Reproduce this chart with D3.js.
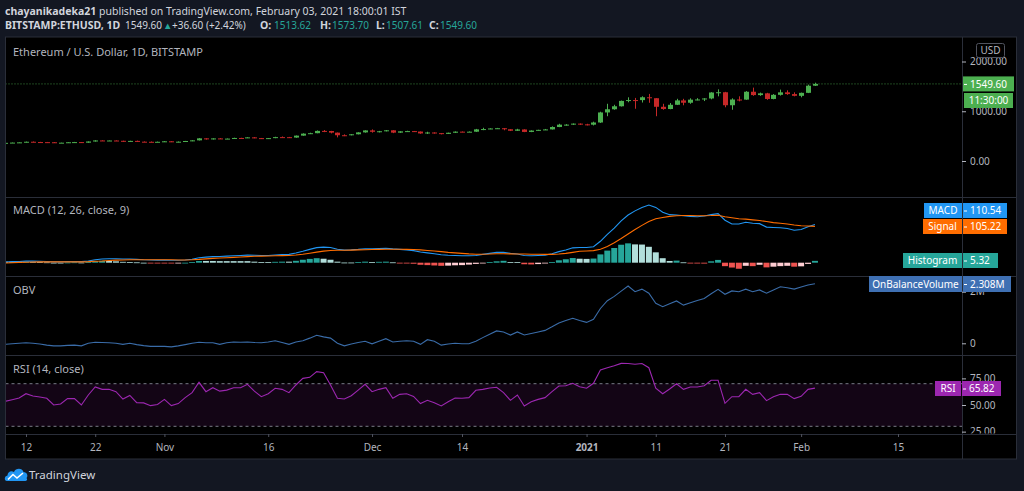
<!DOCTYPE html>
<html><head><meta charset="utf-8">
<script src="https://cdn.jsdelivr.net/npm/d3@7"></script>
<style>
html,body{margin:0;padding:0;background:#131722;overflow:hidden;}
svg{display:block;}
text{font-family:"Noto Sans","Open Sans",sans-serif;}
</style></head><body>
<svg id="c" width="1024" height="491"></svg>
<script>
// ---------------- DATA ----------------
const startDate = "2020-10-09"; // first daily candle
const open = [351,365,370,375,387,381,379,377,366,368,377,380,368,392,413,409,412,406,393,404,388,386,382,386,396,383,388,402,415,455,435,454,444,450,463,462,475,460,448,460,480,479,471,510,550,559,605,603,570,518,517,537,575,615,587,598,617,570,596,601,592,554,573,560,545,568,590,586,589,636,642,654,659,638,608,634,584,612,626,635,683,731,731,751,737,730,774,976,1040,1100,1208,1225,1224,1281,1262,1090,1045,1130,1218,1171,1233,1237,1257,1377,1382,1121,1236,1234,1392,1325,1360,1247,1330,1380,1345,1310,1370,1513.62];
const high = [370,372,378,390,392,385,383,380,370,380,384,382,394,418,418,415,414,408,407,410,393,392,390,400,398,393,404,418,460,457,456,460,452,468,467,478,480,463,462,487,493,484,512,556,568,614,622,606,572,535,540,578,617,635,605,623,619,598,608,604,593,588,576,563,570,595,593,595,645,668,658,665,662,640,647,637,616,628,644,696,748,741,755,755,748,790,990,1150,1130,1215,1280,1268,1300,1348,1263,1150,1165,1250,1250,1260,1263,1263,1383,1440,1390,1260,1300,1405,1475,1375,1370,1345,1435,1420,1380,1375,1535,1573.70];
const low = [349,363,368,374,376,374,372,362,364,366,373,365,365,390,405,406,401,385,391,383,379,377,379,381,380,375,385,398,413,430,432,442,440,448,457,461,457,442,443,458,470,465,467,508,542,557,580,555,475,500,515,535,570,570,575,595,560,565,588,585,546,543,550,535,543,564,578,584,585,620,640,650,618,602,605,580,580,610,622,633,680,711,725,725,715,715,765,900,1030,1095,1180,1050,1175,1170,900,1030,1040,1125,1120,1150,1220,1205,1240,1300,1080,1030,1200,1230,1310,1310,1230,1240,1315,1330,1300,1280,1365,1507.61];
const close = [365,370,375,387,381,379,377,366,368,377,380,368,392,413,409,412,406,393,404,388,386,382,386,396,383,388,402,415,455,435,454,444,450,463,462,475,460,448,460,480,479,471,510,550,559,605,603,570,518,517,537,575,615,587,598,617,570,596,601,592,554,573,560,545,568,590,586,589,636,642,654,659,638,608,634,584,612,626,635,683,731,731,751,737,730,774,976,1040,1100,1208,1225,1224,1281,1262,1090,1045,1130,1218,1171,1233,1237,1257,1377,1382,1121,1236,1234,1392,1325,1360,1247,1330,1380,1345,1310,1370,1513.62,1549.60];
const macd = [2,3,3.5,4.5,4.5,4,3.5,2.5,2.5,3,3.5,3,5,8.5,10.5,11.5,11.5,10.5,10.5,9.5,8.5,8,7.5,7.5,7,7,8,10,14.5,16,17.5,18,19,20,21,22,21.5,21,21,22.5,23.5,24,28,33,38.5,43.5,45,44,39,36.5,37,38.5,40.5,40,41,42,40,38.5,37,35,31,28.5,26,23,21.5,21,20,20,21,24,27,30,30,27,25,21,20,21,22,26,32,37,43,44,44,46,62,82,100,121,138,150,160,167,160,146,139,138,136,134,133,135,139,142,123,112,112,117,114,113,103,102,101,99,94,96,104,110.54];
const signal = [-1,0,1,1.5,2,2.5,2.5,2.5,2.5,2.5,2.5,2.5,3,4,5,6.5,7.5,8,8.5,8.5,8.5,8.5,8.5,8.5,8.5,8,8,8.5,9.5,11,12.5,13.5,14.5,15.5,16.5,17.5,18.5,19,19.5,20,20.5,21,22.5,24.5,27.5,30.5,33.5,35.5,36,36,36.5,37,37.5,38,38.5,39,39,39,38.5,38,37,35.5,34,32,30,28.5,27,25.5,24.5,24.5,25,26,26,25.5,25,25,24.5,24.5,24,24,25,27,30,33,34,35,39,47,58,70,83,96,108,119,127,131,134,136,136.5,136.5,136,136,136.5,137.5,133,130,127,126,124,122,119,116,114,112,109,107,106,105.22];
const hist = [3,3,2.5,3,2.5,1.5,1,0,0,0.5,1,0.5,2,4.5,5.5,5,4,2.5,2,1,0,-0.5,-1,-1,-1.5,-1,0,1.5,5,5,5,4.5,4.5,4.5,4.5,4.5,3,2,1.5,2.5,3,3,5.5,8.5,11,13,11.5,8.5,3,0.5,0.5,1.5,3,2,2.5,3,1,-0.5,-1.5,-3,-6,-7,-8,-9,-8.5,-7.5,-7,-5.5,-3.5,-0.5,2,4,5.5,2,1.5,-4.5,-5,-4,-2,2,7,10,13.5,11.5,11,12,24,35,42.5,52,56,53,52.5,46,30,13,5,6,1,-0.5,-2,-2.5,4,8,-10,-14,-17.5,-9,-10,-6,-13.5,-11.5,-10,-9,-11.5,-10.5,-3.5,5.32];
const obv = [-0.04,-0.02,0,0.02,0,-0.03,-0.07,-0.1,-0.1,-0.08,-0.07,-0.1,0,0.04,0.03,0.02,0,-0.04,0,-0.05,-0.09,-0.12,-0.12,-0.12,-0.14,-0.1,-0.05,0,0.04,0.02,0.02,-0.04,0.02,0.05,0.04,0.05,0.03,0.02,0.05,0.1,0.03,-0.04,0.05,0.1,0.2,0.31,0.25,0.2,0,-0.1,-0.03,0.03,0.08,-0.02,0.08,0.18,0.05,0.08,0.1,0.08,-0.04,0.14,0.08,-0.07,-0.03,0,-0.02,-0.02,0.08,0.22,0.35,0.48,0.44,0.32,0.44,0.32,0.38,0.44,0.5,0.64,0.79,0.88,0.97,0.88,0.81,0.93,1.35,1.65,1.82,2.02,2.22,2.0,2.1,1.94,1.55,1.42,1.53,1.64,1.48,1.57,1.66,1.74,1.92,2.09,1.9,2.03,2.0,2.1,2.0,2.07,1.94,2.07,2.19,2.15,2.1,2.18,2.26,2.308]; // millions
const rsi = [53.5,55,56.5,60.6,58.5,57.5,56.3,50,51,56,56,50,59.4,66.9,64.7,64.7,62.5,55.6,59,52.2,52,49.4,50.5,55.3,49.4,51.3,56.9,61.6,71.3,62.5,66.2,63,64,66.2,66.2,69.4,63,57.8,60.6,65.7,64.7,61.6,68.8,75,76,81.3,80.3,68.8,56.3,55.6,58.7,64,69.4,62.5,64.7,66.2,56.3,60,60.6,58.1,51.3,54.4,52.2,49.1,53.1,56.6,56.3,56.9,63.8,64.7,66,66.6,61.6,54.4,59.4,49.1,53.1,55.3,56.9,62.5,67.8,68.1,70.4,67.2,65.7,70.4,82.9,85,86.9,89.1,89,88.2,89,85,65.7,60.6,65,70,64.7,66.9,66.9,68.1,73.2,73.2,51.6,57.8,57.8,64.7,60,61.6,54.1,57.8,60,60,56,58.1,64.7,65.82];

const priceTicks = [0, 1000, 2000];
const obvTicks = [0, 2];
const rsiTicks = [25, 50, 75];
const rsiBands = [70, 30];
const timeTicks = ["2020-10-12","2020-10-22","2020-11-01","2020-11-16","2020-12-01","2020-12-14","2021-01-01","2021-01-11","2021-01-21","2021-02-01","2021-02-15"];
const timeLabels = ["12","22","Nov","16","Dec","14","2021","11","21","Feb","15"];

// ---------------- LAYOUT ----------------
const svg = d3.select("#c");
const parse = d3.utcParse("%Y-%m-%d");
const dates = close.map((_, i) => d3.utcDay.offset(parse(startDate), i));
const n = close.length;
const L = 5.5, R = 962, RR = 1016.5;
const P = {price:[37,197], macd:[197,276], obv:[276,355], rsi:[355,434]};
const AXB = 459;
const gridC = "#2a2e39", txtC = "#b2b5be";
const upC = "#4caf50", dnC = "#c62828";

const x = d3.scaleUtc().domain([parse("2020-10-12"), parse("2021-02-15")]).range([26, 898]);
const yP = d3.scaleLinear().domain([0, 2000]).range([161, 61.5]);
const yM = d3.scaleLinear().domain([0, 100]).range([262.7, 228.14]);
const yO = d3.scaleLinear().domain([0, 2]).range([343.3, 291.7]);
const yR = d3.scaleLinear().domain([30, 70]).range([426.3, 383.7]);

// frame
svg.append("rect").attr("x", L).attr("y", 37).attr("width", RR - L).attr("height", AXB - 37)
  .attr("fill", "#000").attr("stroke", gridC).attr("stroke-width", 1);

const defs = svg.append("defs");
Object.entries(P).forEach(([k, [t, b]]) => {
  defs.append("clipPath").attr("id", "clip-" + k).append("rect")
    .attr("x", L + 0.5).attr("y", t + 0.5).attr("width", R - L - 0.5).attr("height", b - t - 1);
  defs.append("clipPath").attr("id", "clipax-" + k).append("rect")
    .attr("x", R).attr("y", t + 0.5).attr("width", RR - R).attr("height", b - t - 1);
});

// separators
[197, 276, 355, 434].forEach(y => svg.append("line").attr("x1", L).attr("x2", RR)
  .attr("y1", y + 0.5).attr("y2", y + 0.5).attr("stroke", gridC));
svg.append("line").attr("x1", R + 0.5).attr("x2", R + 0.5).attr("y1", 37).attr("y2", AXB).attr("stroke", gridC);

// ---------------- PRICE PANE ----------------
const gP = svg.append("g").attr("clip-path", "url(#clip-price)");
gP.append("line").attr("x1", L).attr("x2", R).attr("y1", yP(close[n-1])).attr("y2", yP(close[n-1]))
  .attr("stroke", upC).attr("stroke-dasharray", "1,2").attr("opacity", 0.8);
dates.forEach((d, i) => {
  const cx = Math.round(x(d));
  const col = close[i] >= open[i] ? upC : dnC;
  gP.append("line").attr("x1", cx + 0.5).attr("x2", cx + 0.5)
    .attr("y1", yP(high[i])).attr("y2", yP(low[i])).attr("stroke", col);
  const y0 = yP(Math.max(open[i], close[i])), y1 = yP(Math.min(open[i], close[i]));
  gP.append("rect").attr("x", cx - 2).attr("width", 5).attr("y", y0)
    .attr("height", Math.max(1, y1 - y0)).attr("fill", col);
});
svg.append("text").attr("x", 13).attr("y", 55.5).attr("font-size", 11).attr("fill", txtC)
  .text("Ethereum / U.S. Dollar, 1D, BITSTAMP");

function rightAxis(scale, ticks, fmt, pane) {
  const outer = svg.append("g").attr("clip-path", `url(#clipax-${pane})`);
  const g = outer.append("g").attr("transform", `translate(${R},0)`)
    .call(d3.axisRight(scale).tickValues(ticks).tickFormat(fmt).tickSize(4).tickPadding(4));
  g.select(".domain").remove();
  g.selectAll("line").attr("stroke", txtC);
  g.selectAll("text").attr("fill", txtC).attr("font-size", 10)
    .attr("font-family", '"Noto Sans",sans-serif');
  return g;
}
rightAxis(yP, priceTicks, d3.format(".2f"), "price");

// USD box
svg.append("rect").attr("x", 976.5).attr("y", 43.5).attr("width", 28).attr("height", 14).attr("rx", 2)
  .attr("fill", "#000").attr("stroke", "#50535e");
svg.append("text").attr("x", 990.5).attr("y", 54).attr("text-anchor", "middle").attr("font-size", 10)
  .attr("fill", txtC).text("USD");

function tagBox(xl, xr, yc, h, fill, txt, tick) {
  svg.append("rect").attr("x", xl).attr("y", yc - h / 2).attr("width", xr - xl).attr("height", h).attr("fill", fill);
  if (tick) svg.append("line").attr("x1", xl + 1).attr("x2", xl + 4).attr("y1", yc + 0.5).attr("y2", yc + 0.5).attr("stroke", "#fff");
  svg.append("text").attr("x", tick ? xl + 7 : (xl + xr) / 2).attr("y", yc).attr("dy", "0.36em")
    .attr("text-anchor", tick ? "start" : "middle").attr("font-size", 10).attr("fill", "#fff").text(txt);
}
tagBox(963, 1014, yP(close[n-1]), 15, upC, d3.format(".2f")(close[n-1]), true);
tagBox(964, 1013, 100.5, 15, upC, "11:30:00", false);

// ---------------- MACD PANE ----------------
const gM = svg.append("g").attr("clip-path", "url(#clip-macd)");
hist.forEach((h, i) => {
  const prev = i > 0 ? hist[i - 1] : h;
  const col = h >= 0 ? (h > prev ? "#26a69a" : "#b2dfdb") : (h > prev ? "#ffcdd2" : "#ef5350");
  const cx = x(dates[i]);
  gM.append("rect").attr("x", cx - 3).attr("width", 6)
    .attr("y", Math.min(yM(0), yM(h))).attr("height", Math.max(0.8, Math.abs(yM(h) - yM(0))))
    .attr("fill", col);
});
const lineM = d3.line().x((d, i) => x(dates[i])).y(d => yM(d));
gM.append("path").attr("d", lineM(macd)).attr("fill", "none").attr("stroke", "#2196f3").attr("stroke-width", 1.1);
gM.append("path").attr("d", lineM(signal)).attr("fill", "none").attr("stroke", "#ff6d00").attr("stroke-width", 1.1);
svg.append("text").attr("x", 13).attr("y", 214).attr("font-size", 11).attr("fill", txtC).text("MACD (12, 26, close, 9)");

tagBox(924, 962, 210.5, 15, "#2196f3", "MACD", false);
tagBox(963, 1007, 210.5, 15, "#2196f3", d3.format(".2f")(macd[n-1]), true);
tagBox(923, 962, 226.5, 15, "#ff6d00", "Signal", false);
tagBox(963, 1007, 226.5, 15, "#ff6d00", d3.format(".2f")(signal[n-1]), true);
tagBox(903, 962, 260.5, 15, "#26a69a", "Histogram", false);
tagBox(963, 998, 260.5, 15, "#26a69a", d3.format(".2f")(hist[n-1]), true);

// ---------------- OBV PANE ----------------
const gO = svg.append("g").attr("clip-path", "url(#clip-obv)");
gO.append("path").attr("d", d3.line().x((d, i) => x(dates[i])).y(d => yO(d))(obv))
  .attr("fill", "none").attr("stroke", "#3a6ca8").attr("stroke-width", 1.1);
svg.append("text").attr("x", 13).attr("y", 293.5).attr("font-size", 11).attr("fill", txtC).text("OBV");
rightAxis(yO, obvTicks, d => d === 0 ? "0" : d + "M", "obv");
tagBox(869, 962, 284, 16, "#3f70b3", "OnBalanceVolume", false);
tagBox(963, 1011, 284, 16, "#3f70b3", d3.format(".3f")(obv[n-1]) + "M", true);

// ---------------- RSI PANE ----------------
const gR = svg.append("g").attr("clip-path", "url(#clip-rsi)");
gR.append("rect").attr("x", L).attr("width", R - L).attr("y", yR(70)).attr("height", yR(30) - yR(70))
  .attr("fill", "#9c27b0").attr("opacity", 0.12);
rsiBands.forEach(v => gR.append("line").attr("x1", L).attr("x2", R).attr("y1", yR(v)).attr("y2", yR(v))
  .attr("stroke", "#787b86").attr("stroke-dasharray", "3,3"));
gR.append("path").attr("d", d3.line().x((d, i) => x(dates[i])).y(d => yR(d))(rsi))
  .attr("fill", "none").attr("stroke", "#9c27b0").attr("stroke-width", 1.1);
svg.append("text").attr("x", 13).attr("y", 372.5).attr("font-size", 11).attr("fill", txtC).text("RSI (14, close)");
rightAxis(yR, rsiTicks, d3.format(".2f"), "rsi");
tagBox(935, 961, 388.5, 15, "#9c27b0", "RSI", false);
tagBox(962, 1001, 388.5, 15, "#9c27b0", d3.format(".2f")(rsi[n-1]), true);

// ---------------- TIME AXIS ----------------
const gT = svg.append("g").attr("transform", "translate(0,434)")
  .call(d3.axisBottom(x).tickValues(timeTicks.map(parse)).tickFormat((d, i) => timeLabels[i]).tickSize(3).tickPadding(7));
gT.select(".domain").remove();
gT.selectAll("line").attr("stroke", "#50535e");
gT.selectAll("text").attr("fill", txtC).attr("font-size", 10).attr("font-family", '"Noto Sans",sans-serif')
  .attr("font-weight", (d, i) => timeLabels[i] === "2021" ? 700 : 400);

// ---------------- HEADER ----------------
const h1 = svg.append("text").attr("x", 5).attr("y", 14.5).attr("font-size", 10.5).attr("fill", "#d1d4dc");
h1.append("tspan").attr("font-weight", 700).text("chayanikadeka21");
h1.append("tspan").text(" published on TradingView.com, February 03, 2021 18:00:01 IST");
const teal = "#26a69a";
const h2 = svg.append("g").attr("fill", "#d1d4dc");
const seg = (xx, t, bold, col, fs) => h2.append("text").attr("x", xx).attr("y", 28.5)
  .attr("font-size", fs || 10.5).attr("font-weight", bold ? 700 : 400).attr("fill", col || "#d1d4dc").text(t);
seg(5, "BITSTAMP:ETHUSD, 1D", true);
seg(125, d3.format(".2f")(close[n-1]), false, null, 10);
seg(163, "▲", false, teal, 9.5);
seg(172, "+36.60 (+2.42%)", false, null, 10);
[["O:", open[n-1], 260, 274], ["H:", high[n-1], 320, 332], ["L:", low[n-1], 376, 386], ["C:", close[n-1], 429, 440]]
  .forEach(([k, v, xk, xv]) => { seg(xk, k, true); seg(xv, d3.format(".2f")(v), false, teal, 10); });

// ---------------- FOOTER ----------------
const logo = svg.append("g").attr("transform", "translate(5,467)");
logo.append("path").attr("fill", "#2196f3")
  .attr("d", "M2,14 C-1,14 -1,9 2.5,8.5 C2.5,5 6,3 9,5 C10.5,1 17,0.5 18.5,5 C22,5 23.5,9 21.5,11 C23,13 21.5,14 20,14 Z");
logo.append("path").attr("fill", "none").attr("stroke", "#fff").attr("stroke-width", 1.6)
  .attr("d", "M3,12.5 L8,7.5 L12,11 L18,6");
svg.append("text").attr("x", 29).attr("y", 478.5).attr("font-size", 11.5).attr("fill", "#d1d4dc").text("TradingView");
</script>
</body></html>
